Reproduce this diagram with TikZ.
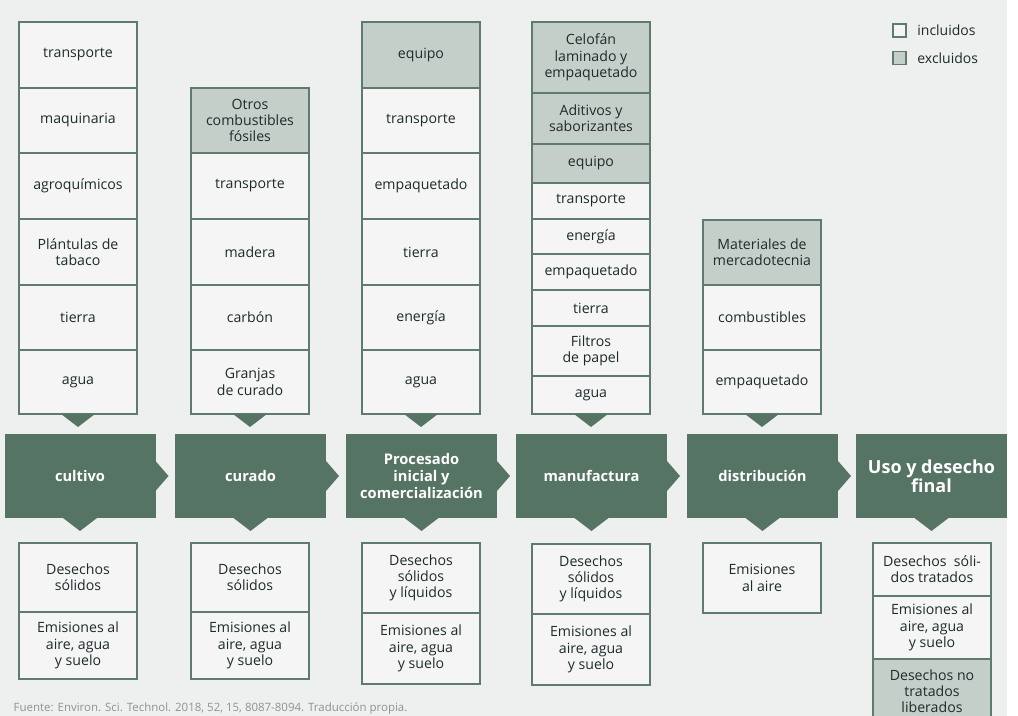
\documentclass[tikz,border=0pt]{standalone}
\usepackage{fontspec}
\setmainfont{Open Sans}
\usetikzlibrary{positioning,calc}
\definecolor{bg}{HTML}{EEF0EF}
\definecolor{stagegreen}{HTML}{557464}
\definecolor{excl}{HTML}{C5CFCA}
\definecolor{incl}{HTML}{F4F5F4}
\definecolor{edge}{HTML}{5F7B6D}
\definecolor{ink}{HTML}{1E2B2B}
\definecolor{foot}{HTML}{8A9490}
\tikzset{
  cell/.style={draw=edge,fill=incl,line width=1pt,outer sep=0pt,inner sep=1pt,
    minimum width=88.5pt,align=center,text=ink,font=\fontsize{10.6}{12.2}\selectfont},
  gray/.style={cell,fill=excl},
  ht/.style={minimum height=#1*0.75pt},
  stage/.style={fill=stagegreen,outer sep=0pt,minimum width=113.25pt,minimum height=63pt,
    align=center,text=white,font=\bfseries\fontsize{11}{12.75}\selectfont},
  flap/.style={fill=stagegreen}
}
\begin{document}
\begin{tikzpicture}[x=0.75pt,y=-0.75pt]
\useasboundingbox (0,0) rectangle (1018,716);
\fill[bg] (0,0) rectangle (1007,716);

% inputs
\node(cult1)[cell,ht=66,anchor=north] at (78,22) {transporte};
\node(cult2)[cell,ht=65,below=0pt of cult1] {maquinaria};
\node(cult3)[cell,ht=66,below=0pt of cult2] {agroquímicos};
\node(cult4)[cell,ht=66,below=0pt of cult3] {Plántulas de\\tabaco};
\node(cult5)[cell,ht=65,below=0pt of cult4] {tierra};
\node(cult6)[cell,ht=64,below=0pt of cult5] {agua};

\node(cura1)[gray,ht=65,anchor=north] at (250,88) {Otros\\combustibles\\fósiles};
\node(cura2)[cell,ht=66,below=0pt of cura1] {transporte};
\node(cura3)[cell,ht=66,below=0pt of cura2] {madera};
\node(cura4)[cell,ht=65,below=0pt of cura3] {carbón};
\node(cura5)[cell,ht=64,below=0pt of cura4] {Granjas\\de curado};

\node(proc1)[gray,ht=66,anchor=north] at (421,22) {equipo};
\node(proc2)[cell,ht=65,below=0pt of proc1] {transporte};
\node(proc3)[cell,ht=66,below=0pt of proc2] {empaquetado};
\node(proc4)[cell,ht=66,below=0pt of proc3] {tierra};
\node(proc5)[cell,ht=65,below=0pt of proc4] {energía};
\node(proc6)[cell,ht=64,below=0pt of proc5] {agua};

\node(manu1)[gray,ht=71,anchor=north] at (591,22) {Celofán\\laminado y\\empaquetado};
\node(manu2)[gray,ht=51,below=0pt of manu1] {Aditivos y\\saborizantes};
\node(manu3)[gray,ht=39,below=0pt of manu2] {equipo};
\node(manu4)[cell,ht=36,below=0pt of manu3] {transporte};
\node(manu5)[cell,ht=35,below=0pt of manu4] {energía};
\node(manu6)[cell,ht=36,below=0pt of manu5] {empaquetado};
\node(manu7)[cell,ht=36,below=0pt of manu6] {tierra};
\node(manu8)[cell,ht=50,below=0pt of manu7] {Filtros\\de papel};
\node(manu9)[cell,ht=38,below=0pt of manu8] {agua};

\node(dist1)[gray,ht=65,anchor=north] at (762,220) {Materiales de\\mercadotecnia};
\node(dist2)[cell,ht=65,below=0pt of dist1] {combustibles};
\node(dist3)[cell,ht=64,below=0pt of dist2] {empaquetado};

% stages
\node(cultivo) at (80,476)[stage] {cultivo};
\node(curado) at (250.5,476)[stage] {curado};
\node(procesado) at (421.5,476)[stage] {Procesado\\inicial y\\comercialización};
\node(manufactura) at (591.5,476)[stage] {manufactura};
\node(distribucion) at (762.5,476)[stage] {distribución};
\node(uso) at (931.5,476)[stage,font=\bfseries\fontsize{13.5}{12.5}\selectfont] {Uso y desecho\\final};

% outputs
\node(cultout1)[cell,ht=69,anchor=north] at (78,543) {Desechos\\sólidos};
\node(cultout2)[cell,ht=67,below=0pt of cultout1] {Emisiones al\\aire, agua\\y suelo};
\node(curaout1)[cell,ht=69,anchor=north] at (250,543) {Desechos\\sólidos};
\node(curaout2)[cell,ht=67,below=0pt of curaout1] {Emisiones al\\aire, agua\\y suelo};
\node(procout1)[cell,ht=70,anchor=north] at (421,543) {Desechos\\sólidos\\y líquidos};
\node(procout2)[cell,ht=71,below=0pt of procout1] {Emisiones al\\aire, agua\\y suelo};
\node(manuout1)[cell,ht=70,anchor=north] at (591,544) {Desechos\\sólidos\\y líquidos};
\node(manuout2)[cell,ht=71,below=0pt of manuout1] {Emisiones al\\aire, agua\\y suelo};
\node(distout1)[cell,ht=70,anchor=north] at (762,543) {Emisiones\\al aire};
\node(usoout1)[cell,ht=53,anchor=north] at (932,543) {Desechos~ sóli-\\dos tratados};
\node(usoout2)[cell,ht=63,below=0pt of usoout1] {Emisiones al\\aire, agua\\y suelo};
\node(usoout3)[gray,ht=64,below=0pt of usoout2] {Desechos no\\tratados\\liberados};

% flaps into the stages
\fill[flap] ($(cult6.south)+(-17,0)$) -- ($(cult6.south)+(17,0)$) -- ($(cult6.south)+(0,13)$) -- cycle;
\fill[flap] ($(cura5.south)+(-17,0)$) -- ($(cura5.south)+(17,0)$) -- ($(cura5.south)+(0,13)$) -- cycle;
\fill[flap] ($(proc6.south)+(-17,0)$) -- ($(proc6.south)+(17,0)$) -- ($(proc6.south)+(0,13)$) -- cycle;
\fill[flap] ($(manu9.south)+(-17,0)$) -- ($(manu9.south)+(17,0)$) -- ($(manu9.south)+(0,13)$) -- cycle;
\fill[flap] ($(dist3.south)+(-17,0)$) -- ($(dist3.south)+(17,0)$) -- ($(dist3.south)+(0,13)$) -- cycle;

% flaps between stages
\fill[flap] ($(cultivo.east)+(0,-15)$) -- ($(cultivo.east)+(13,0)$) -- ($(cultivo.east)+(0,15)$) -- cycle;
\fill[flap] ($(curado.east)+(0,-15)$) -- ($(curado.east)+(13,0)$) -- ($(curado.east)+(0,15)$) -- cycle;
\fill[flap] ($(procesado.east)+(0,-15)$) -- ($(procesado.east)+(13,0)$) -- ($(procesado.east)+(0,15)$) -- cycle;
\fill[flap] ($(manufactura.east)+(0,-15)$) -- ($(manufactura.east)+(13,0)$) -- ($(manufactura.east)+(0,15)$) -- cycle;
\fill[flap] ($(distribucion.east)+(0,-15)$) -- ($(distribucion.east)+(13,0)$) -- ($(distribucion.east)+(0,15)$) -- cycle;

% flaps out of the stages
\fill[flap] ($(cultivo.south)+(-17,0)$) -- ($(cultivo.south)+(17,0)$) -- ($(cultivo.south)+(0,13)$) -- cycle;
\fill[flap] ($(curado.south)+(-17,0)$) -- ($(curado.south)+(17,0)$) -- ($(curado.south)+(0,13)$) -- cycle;
\fill[flap] ($(procesado.south)+(-17,0)$) -- ($(procesado.south)+(17,0)$) -- ($(procesado.south)+(0,13)$) -- cycle;
\fill[flap] ($(manufactura.south)+(-17,0)$) -- ($(manufactura.south)+(17,0)$) -- ($(manufactura.south)+(0,13)$) -- cycle;
\fill[flap] ($(distribucion.south)+(-17,0)$) -- ($(distribucion.south)+(17,0)$) -- ($(distribucion.south)+(0,13)$) -- cycle;
\fill[flap] ($(uso.south)+(-17,0)$) -- ($(uso.south)+(17,0)$) -- ($(uso.south)+(0,13)$) -- cycle;

% legend
\node(inckey)[cell,minimum width=9.75pt,ht=13,inner sep=0pt] at (899.5,30.5) {};
\node(inctxt)[right=5pt of inckey,text=ink,font=\fontsize{10.5}{12}\selectfont] {incluidos};
\node(exckey)[gray,minimum width=9.75pt,ht=13,inner sep=0pt] at (899.5,58) {};
\node(exctxt)[right=5pt of exckey,text=ink,font=\fontsize{10.5}{12}\selectfont] {excluidos};

\node(fuente)[anchor=west,text=foot,font=\fontsize{8.6}{10}\selectfont] at (9,708)
  {Fuente: Environ. Sci. Technol. 2018, 52, 15, 8087-8094. Traducción propia.};

\end{tikzpicture}
\end{document}
